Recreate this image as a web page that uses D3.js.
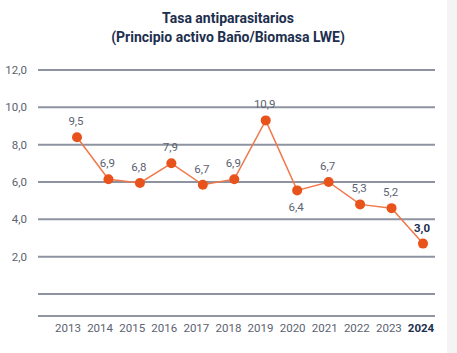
<!DOCTYPE html>
<html><head><meta charset="utf-8">
<script src="https://cdn.jsdelivr.net/npm/d3@7"></script>
<style>
body{margin:0;background:#fff;}
svg{display:block;}
</style></head>
<body>
<svg id="c" width="457" height="353"></svg>
<script>
const years = ["2013","2014","2015","2016","2017","2018","2019","2020","2021","2022","2023","2024"];
const values = [8.4, 6.15, 5.95, 7.0, 5.85, 6.15, 9.3, 5.55, 6.0, 4.8, 4.6, 2.7];
const labels = ["9,5","6,9","6,8","7,9","6,7","6,9","10,9","6,4","6,7","5,3","5,2","3,0"];
const labelSide = ["above","above","above","above","above","above","above","below","above","above","above","above"];
const yTicks = [0, 2, 4, 6, 8, 10, 12];
const titleLines = ["Tasa antiparasitarios", "(Principio activo Baño/Biomasa LWE)"];

const svg = d3.select("#c");
const font = "Roboto, 'DejaVu Sans', sans-serif";

// faint right edge shade
svg.append("rect").attr("x",447).attr("y",0).attr("width",10).attr("height",353).attr("fill","#f4f4f5");

svg.append("g").selectAll("text").data(titleLines).join("text")
  .attr("x", 228).attr("y", (d,i)=> 23 + i*19)
  .attr("text-anchor","middle")
  .attr("font-family", font).attr("font-weight","700").attr("font-size","14px")
  .attr("fill","#1d2f4e").text(d=>d);

const y = d3.scaleLinear().domain([0,12]).range([294,70]);
const xLab = d3.scalePoint().domain(years).range([68,421]);
const xPt = d3.scalePoint().domain(years).range([77,423]);

// gridlines
svg.append("g").selectAll("line").data(yTicks).join("line")
  .attr("x1",38).attr("x2",435)
  .attr("y1",d=>y(d)).attr("y2",d=>y(d))
  .attr("stroke","#8d93a1").attr("stroke-width",2);
// bottom axis line
svg.append("line").attr("x1",38).attr("x2",435).attr("y1",316).attr("y2",316)
  .attr("stroke","#6b7282").attr("stroke-width",1.5);

// y labels
svg.append("g").selectAll("text").data(yTicks.filter(d=>d>0)).join("text")
  .attr("x",27).attr("y",d=>y(d)).attr("dy","0.35em")
  .attr("text-anchor","end")
  .attr("font-family",font).attr("font-size","11.5px").attr("fill","#5b6270")
  .text(d=>d3.format(".1f")(d).replace(".",","));

// x labels
svg.append("g").selectAll("text").data(years).join("text")
  .attr("x",d=>xLab(d)).attr("y",332)
  .attr("text-anchor","middle")
  .attr("font-family",font).attr("font-size","11.5px")
  .attr("font-weight",(d,i)=> i===years.length-1 ? "700":"400")
  .attr("fill",(d,i)=> i===years.length-1 ? "#1d2f4e":"#5b6270")
  .text(d=>d);

const pts = years.map((yr,i)=>({yr, v:values[i], lab:labels[i], side:labelSide[i], i}));

svg.append("path").datum(pts)
  .attr("fill","none").attr("stroke","#f0784a").attr("stroke-width",1.5)
  .attr("d", d3.line().x(d=>xPt(d.yr)).y(d=>y(d.v)));

svg.append("g").selectAll("circle").data(pts).join("circle")
  .attr("cx",d=>xPt(d.yr)).attr("cy",d=>y(d.v)).attr("r",5)
  .attr("fill","#e8521b");

svg.append("g").selectAll("text").data(pts).join("text")
  .attr("x",d=>xPt(d.yr)-1)
  .attr("y",d=> d.side==="below" ? y(d.v)+21 : y(d.v)-12)
  .attr("text-anchor","middle")
  .attr("font-family",font).attr("font-size","11.5px")
  .attr("font-weight",d=> d.i===years.length-1 ? "700":"400")
  .attr("fill",d=> d.i===years.length-1 ? "#1d2f4e":"#5b6270")
  .text(d=>d.lab);
</script>
</body></html>
